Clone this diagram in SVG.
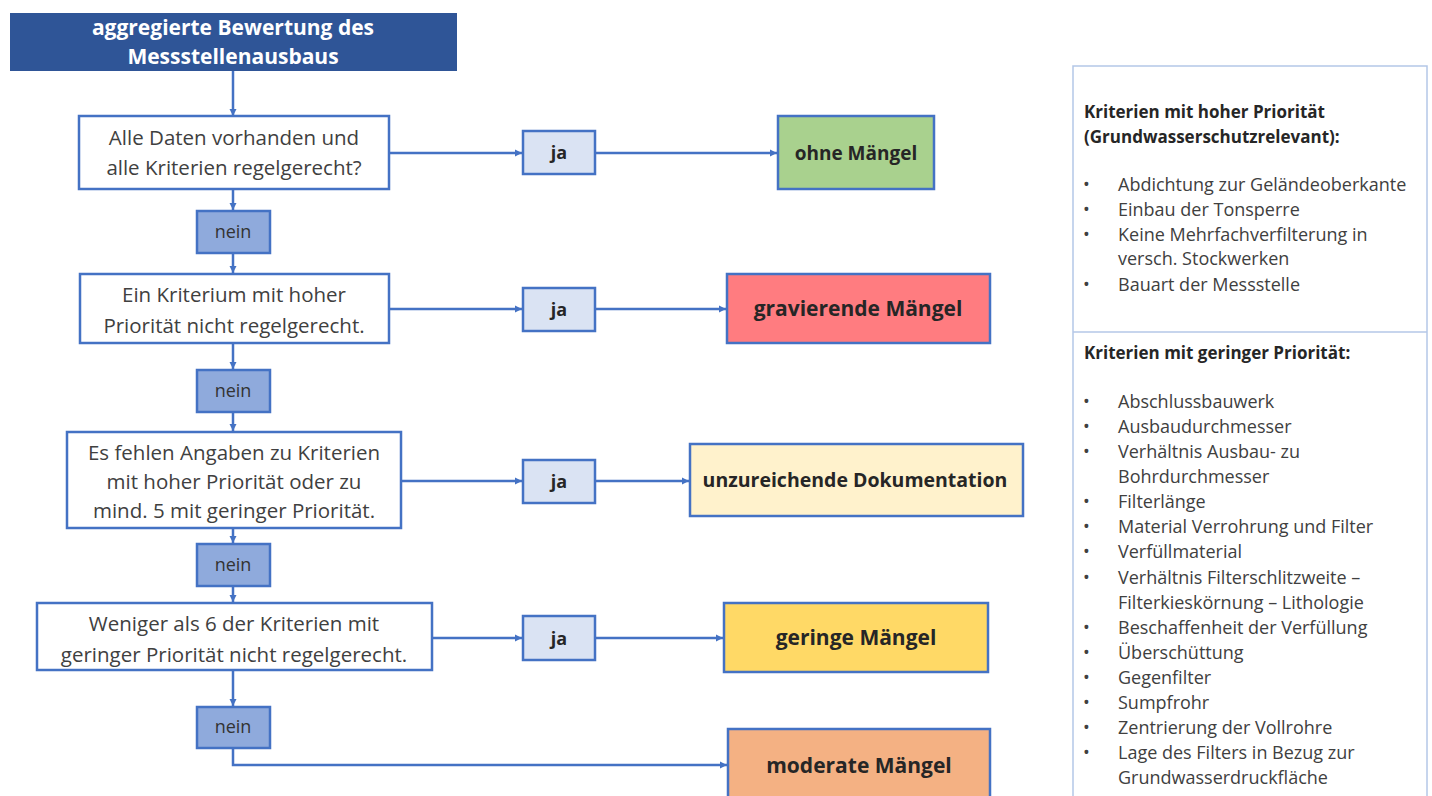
<svg xmlns="http://www.w3.org/2000/svg" width="1432" height="796" viewBox="0 0 1432 796">
<defs>
<marker id="arr" viewBox="0 0 6 6" refX="6" refY="3" markerWidth="3" markerHeight="3" orient="auto" markerUnits="strokeWidth">
<path d="M0,0 L6,3 L0,6 z" fill="#4472C4"/>
</marker>
<style>
.box{fill:#FFFFFF;stroke:#4472C4;stroke-width:2.5}
.ja{fill:#DAE3F3;stroke:#4472C4;stroke-width:2.5}
.nein{fill:#8FAADC;stroke:#4472C4;stroke-width:2.5}
.res{stroke:#4472C4;stroke-width:2.5}
.t{font-family:"Open Sans","Liberation Sans",sans-serif;font-size:20.5px;fill:#404040;text-anchor:middle}
.n{font-family:"Open Sans","Liberation Sans",sans-serif;font-size:18px;fill:#333333;text-anchor:middle}
.tb{font-family:"Open Sans","Liberation Sans",sans-serif;font-size:18px;font-weight:bold;fill:#262626;text-anchor:middle}
.rt{font-family:"Open Sans","Liberation Sans",sans-serif;font-size:21px;font-weight:bold;fill:#262626;text-anchor:middle}
.title{font-family:"Open Sans","Liberation Sans",sans-serif;font-size:21px;font-weight:bold;fill:#FFFFFF;text-anchor:middle}
.ph{font-family:"Open Sans","Liberation Sans",sans-serif;font-size:17px;font-weight:bold;fill:#262626}
.pi{font-family:"Open Sans","Liberation Sans",sans-serif;font-size:18px;fill:#404040}
.c{fill:none;stroke:#4472C4;stroke-width:2.5;marker-end:url(#arr)}
</style>
</defs>
<rect width="1432" height="796" fill="#FFFFFF"/>

<g id="connectors">
<path class="c" d="M233,71 V116"/>
<path class="c" d="M389,153 H522"/>
<path class="c" d="M595,153 H777"/>
<path class="c" d="M233,189 V210"/>
<path class="c" d="M233,253 V273"/>
<path class="c" d="M389,309 H522"/>
<path class="c" d="M595,309 H726"/>
<path class="c" d="M233,343 V369"/>
<path class="c" d="M233,412 V431"/>
<path class="c" d="M401,481 H522"/>
<path class="c" d="M595,481 H689"/>
<path class="c" d="M233,528 V543"/>
<path class="c" d="M233,586 V602"/>
<path class="c" d="M432,638 H522"/>
<path class="c" d="M595,638 H723"/>
<path class="c" d="M233,670 V706"/>
<path class="c" d="M233,748 V765 H727"/>
</g>

<g id="title">
<rect x="10" y="13" width="447" height="58" fill="#2F5597"/>
<text class="title" x="233" y="35">aggregierte Bewertung des</text>
<text class="title" x="233" y="64">Messstellenausbaus</text>
</g>

<g id="q1">
<rect class="box" x="79" y="116" width="310" height="73"/>
<text class="t" x="234" y="145">Alle Daten vorhanden  und</text>
<text class="t" x="234" y="175">alle Kriterien  regelgerecht?</text>
</g>
<g id="ja1">
<rect class="ja" x="523" y="131" width="72" height="43"/>
<text class="tb" x="559" y="159">ja</text>
</g>
<g id="r1">
<rect class="res" x="778" y="116" width="156" height="73" fill="#A9D18E"/>
<text class="rt" x="856" y="160" style="font-size:19px">ohne Mängel</text>
</g>
<g id="nein1">
<rect class="nein" x="197" y="211" width="73" height="42"/>
<text class="n" x="233" y="238">nein</text>
</g>

<g id="q2">
<rect class="box" x="80" y="274" width="309" height="69"/>
<text class="t" x="234" y="302">Ein Kriterium mit hoher</text>
<text class="t" x="234" y="333">Priorität nicht regelgerecht.</text>
</g>
<g id="ja2">
<rect class="ja" x="523" y="288" width="72" height="43"/>
<text class="tb" x="559" y="316">ja</text>
</g>
<g id="r2">
<rect class="res" x="727" y="274" width="263" height="69" fill="#FF7C80"/>
<text class="rt" x="858" y="316">gravierende Mängel</text>
</g>
<g id="nein2">
<rect class="nein" x="197" y="370" width="73" height="42"/>
<text class="n" x="233" y="397">nein</text>
</g>

<g id="q3">
<rect class="box" x="67" y="432" width="334" height="96"/>
<text class="t" x="234" y="460">Es fehlen Angaben zu Kriterien</text>
<text class="t" x="234" y="489">mit hoher Priorität oder zu</text>
<text class="t" x="234" y="518">mind. 5 mit geringer Priorität.</text>
</g>
<g id="ja3">
<rect class="ja" x="523" y="460" width="72" height="43"/>
<text class="tb" x="559" y="488">ja</text>
</g>
<g id="r3">
<rect class="res" x="690" y="444" width="333" height="72" fill="#FFF2CC"/>
<text class="rt" x="855" y="487" style="font-size:19.5px">unzureichende  Dokumentation</text>
</g>
<g id="nein3">
<rect class="nein" x="197" y="544" width="73" height="42"/>
<text class="n" x="233" y="571">nein</text>
</g>

<g id="q4">
<rect class="box" x="37" y="603" width="395" height="67"/>
<text class="t" x="234" y="631">Weniger als 6 der Kriterien mit</text>
<text class="t" x="234" y="662">geringer Priorität nicht regelgerecht.</text>
</g>
<g id="ja4">
<rect class="ja" x="523" y="616" width="72" height="44"/>
<text class="tb" x="559" y="645">ja</text>
</g>
<g id="r4">
<rect class="res" x="724" y="603" width="264" height="69" fill="#FFD966"/>
<text class="rt" x="856" y="645">geringe Mängel</text>
</g>
<g id="nein4">
<rect class="nein" x="197" y="707" width="73" height="41"/>
<text class="n" x="233" y="733">nein</text>
</g>
<g id="r5">
<rect class="res" x="728" y="729" width="262" height="70" fill="#F4B183"/>
<text class="rt" x="859" y="773">moderate Mängel</text>
</g>

<g id="panel">
<rect x="1073" y="66" width="354" height="740" fill="#FFFFFF" stroke="#B4C7E7" stroke-width="1.5"/>
<line x1="1073" y1="332" x2="1427" y2="332" stroke="#B4C7E7" stroke-width="1.5"/>
<text class="ph" x="1084" y="118">Kriterien mit hoher Priorität</text>
<text class="ph" x="1084" y="143">(Grundwasserschutzrelevant):</text>
<g class="pi">
<text x="1083" y="191">•</text><text x="1118" y="191">Abdichtung zur Geländeoberkante</text>
<text x="1083" y="216">•</text><text x="1118" y="216">Einbau der Tonsperre</text>
<text x="1083" y="241">•</text><text x="1118" y="241">Keine Mehrfachverfilterung in</text>
<text x="1118" y="265">versch. Stockwerken</text>
<text x="1083" y="291">•</text><text x="1118" y="291">Bauart der Messstelle</text>
</g>
<text class="ph" x="1084" y="359">Kriterien mit geringer Priorität:</text>
<g class="pi">
<text x="1083" y="408">•</text><text x="1118" y="408">Abschlussbauwerk</text>
<text x="1083" y="433">•</text><text x="1118" y="433">Ausbaudurchmesser</text>
<text x="1083" y="458">•</text><text x="1118" y="458">Verhältnis Ausbau- zu</text>
<text x="1118" y="483">Bohrdurchmesser</text>
<text x="1083" y="508">•</text><text x="1118" y="508">Filterlänge</text>
<text x="1083" y="533">•</text><text x="1118" y="533">Material Verrohrung und Filter</text>
<text x="1083" y="558">•</text><text x="1118" y="558">Verfüllmaterial</text>
<text x="1083" y="584">•</text><text x="1118" y="584">Verhältnis Filterschlitzweite –</text>
<text x="1118" y="609">Filterkieskörnung – Lithologie</text>
<text x="1083" y="634">•</text><text x="1118" y="634">Beschaffenheit der Verfüllung</text>
<text x="1083" y="659">•</text><text x="1118" y="659">Überschüttung</text>
<text x="1083" y="684">•</text><text x="1118" y="684">Gegenfilter</text>
<text x="1083" y="709">•</text><text x="1118" y="709">Sumpfrohr</text>
<text x="1083" y="734">•</text><text x="1118" y="734">Zentrierung der Vollrohre</text>
<text x="1083" y="759">•</text><text x="1118" y="759">Lage des Filters in Bezug zur</text>
<text x="1118" y="784">Grundwasserdruckfläche</text>
</g>
</g>
</svg>
